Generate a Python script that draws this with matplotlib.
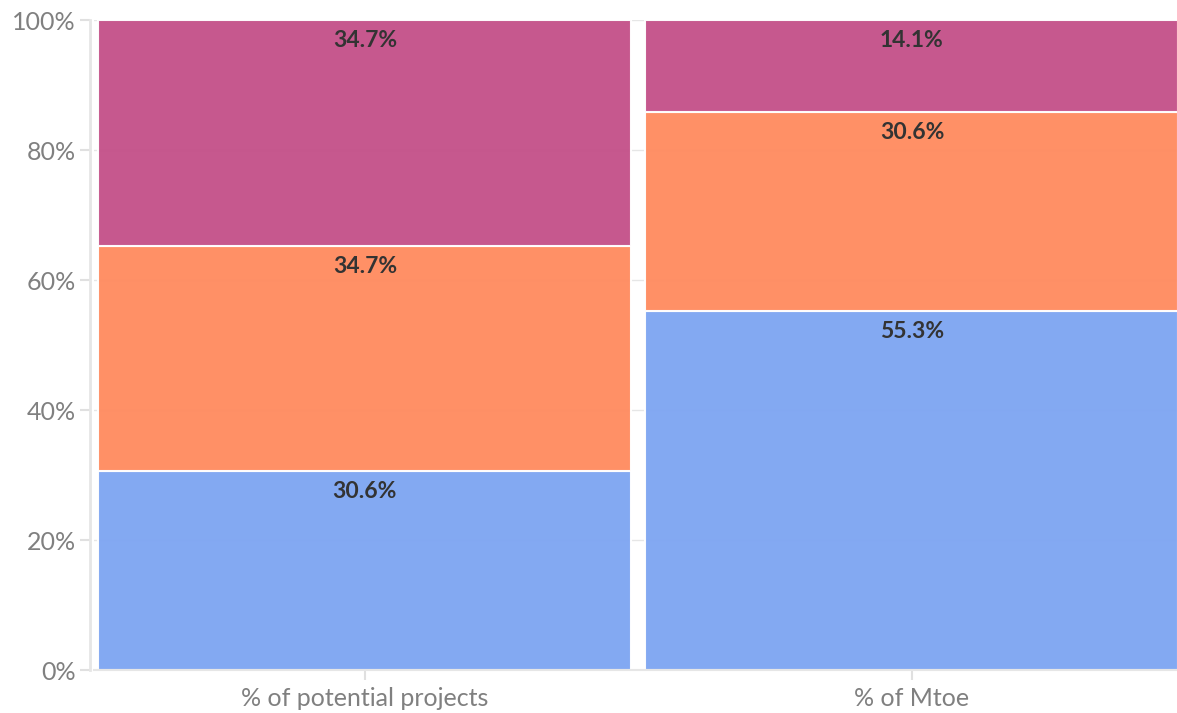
import matplotlib.pyplot as plt
import numpy as np

categories = ["% of potential projects", "% of Mtoe"]
blue_vals = [30.6, 55.3]
orange_vals = [34.7, 30.6]
pink_vals = [34.7, 14.1]
series = [blue_vals, orange_vals, pink_vals]
colors = ["#7FA6F2", "#FF8C61", "#C4528A"]

plt.rcParams['font.family'] = ['Lato', 'DejaVu Sans']

fig = plt.figure(figsize=(11.77, 7.13), dpi=100)
ax = fig.add_axes([94 / 1177, 43 / 713, 1 - 94 / 1177, 650 / 713])

x = np.arange(len(categories))
bottom = np.zeros(len(categories))
for vals, col in zip(series, colors):
    vals = np.array(vals)
    ax.bar(x, vals, bottom=bottom, width=0.974, color=col, alpha=0.97,
           edgecolor="white", linewidth=1.5, zorder=2)
    for xi, b, v in zip(x, bottom, vals):
        ax.annotate(f"{v:.1f}%", (xi, b + v), xytext=(0, -15), textcoords="offset points",
                    ha="center", va="center", fontsize=16.5, fontweight="bold", color="#333333",
                    zorder=3)
    bottom += vals

ax.set_xlim(-0.495, 1.4845)
ax.set_ylim(0, 100)
ax.set_yticks(range(0, 101, 20))
ax.set_yticklabels([f"{t}%" for t in range(0, 101, 20)])
ax.set_xticks(x)
ax.set_xticklabels(categories)

ax.grid(axis="y", color="#e6e6e6", linewidth=1, zorder=0)
ax.set_axisbelow(True)
for s in ["top", "right"]:
    ax.spines[s].set_visible(False)
ax.spines["left"].set_color("#e6e6e6")
ax.spines["left"].set_linewidth(2)
ax.spines["left"].set_position(("outward", 3))
ax.spines["bottom"].set_color("#e6e6e6")
ax.spines["bottom"].set_linewidth(1.5)
ax.tick_params(axis="both", colors="#e0e0e0", labelcolor="#808080", labelsize=18,
               length=7, width=1.5)
ax.tick_params(axis="y", pad=3)
ax.tick_params(axis="x", pad=5)

fig.savefig("out.png", dpi=100)
